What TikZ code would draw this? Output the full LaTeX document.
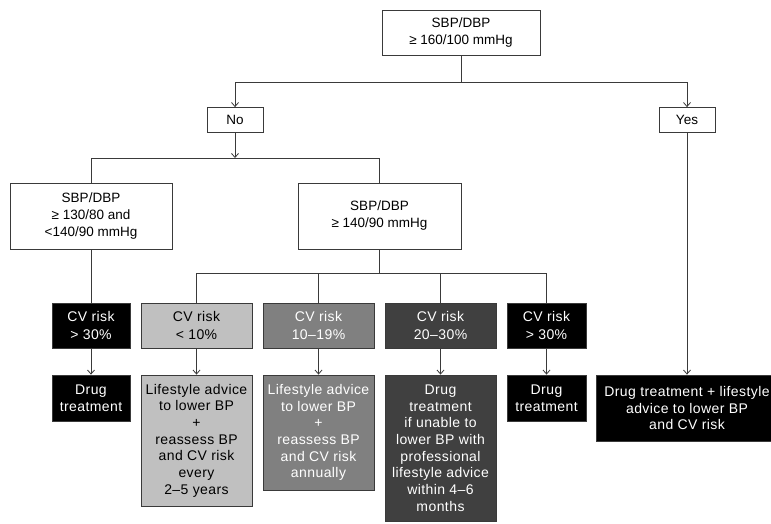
\documentclass[tikz,border=0pt]{standalone}
\usepackage{fontspec}
\setmainfont{Liberation Sans}
\usetikzlibrary{arrows.meta}
\definecolor{lgray}{HTML}{C0C0C0}
\definecolor{mgray}{HTML}{808080}
\definecolor{dgray}{HTML}{404040}
\definecolor{linec}{HTML}{3A3A3A}
\begin{document}
\begin{tikzpicture}[x=1pt,y=-1pt,
  box/.style={draw=linec, line width=0.8pt, align=center, inner sep=0pt, anchor=center},
  topfont/.style={font=\fontsize{13.5}{17}\selectfont},
  botfont/.style={font=\addfontfeatures{LetterSpace=3}\fontsize{14}{16.7}\selectfont},
  cvfont/.style={font=\addfontfeatures{LetterSpace=3}\fontsize{14}{18}\selectfont},
  wbox/.style={box, fill=white, text=black, topfont},
  lbox/.style={box, fill=lgray, text=black},
  mbox/.style={box, fill=mgray, text=white},
  dbox/.style={box, fill=dgray, text=white},
  kbox/.style={box, fill=black, text=white},
  conn/.style={draw=linec, line width=0.8pt},
  arr/.style={conn, -{Straight Barb[length=4pt,width=7pt,line width=0.8pt]}}
]
\useasboundingbox (0,0) rectangle (771,523);
\fill[white] (0,0) rectangle (771,523);

\node[wbox, minimum width=158pt, minimum height=45pt] (top) at (461,32.5) {SBP/DBP\\≥ 160/100 mmHg};
\node[wbox, minimum width=56pt, minimum height=25pt] (no) at (235,120) {No};
\node[wbox, minimum width=56pt, minimum height=25pt] (yes) at (687,120) {Yes};
\node[wbox, minimum width=162pt, minimum height=66pt] (left) at (91,216) {SBP/DBP\\≥ 130/80 and\\<140/90 mmHg};
\node[wbox, minimum width=163pt, minimum height=66pt] (mid) at (379.5,216) {SBP/DBP\\≥ 140/90 mmHg};

\node[kbox, cvfont, minimum width=78pt, minimum height=45pt] (cv1) at (91,325.5) {CV risk\\> 30\%};
\node[lbox, cvfont, minimum width=111pt, minimum height=45pt] (cv2) at (196.5,325.5) {CV risk\\< 10\%};
\node[mbox, cvfont, minimum width=111pt, minimum height=45pt] (cv3) at (318.5,325.5) {CV risk\\10–19\%};
\node[dbox, cvfont, minimum width=111pt, minimum height=45pt] (cv4) at (440.5,325.5) {CV risk\\20–30\%};
\node[kbox, cvfont, minimum width=79pt, minimum height=45pt] (cv5) at (546.5,325.5) {CV risk\\> 30\%};

\node[kbox, botfont, minimum width=78pt, minimum height=46pt] (o1) at (91,398) {Drug\\treatment};
\node[lbox, botfont, minimum width=111pt, minimum height=131pt] (o2) at (196.5,440.5) {Lifestyle advice\\to lower BP\\+\\reassess BP\\and CV risk\\every\\2–5 years};
\node[mbox, botfont, minimum width=111pt, minimum height=115pt] (o3) at (318.5,432.5) {Lifestyle advice\\to lower BP\\+\\reassess BP\\and CV risk\\annually};
\node[dbox, botfont, minimum width=111pt, minimum height=146pt] (o4) at (440.5,448) {Drug\\treatment\\if unable to\\lower BP with\\professional\\lifestyle advice\\within 4–6\\months};
\node[kbox, botfont, minimum width=79pt, minimum height=46pt] (o5) at (546.5,398) {Drug\\treatment};
\node[kbox, botfont, minimum width=182pt, minimum height=66pt] (o6) at (687,408) {Drug treatment + lifestyle\\advice to lower BP\\and CV risk};

\coordinate (j1) at (461,82);
\coordinate (j2) at (235,158);
\coordinate (j3) at (379.5,273);

\draw[conn] (top.south) -- (j1);
\draw[arr] (j1) -| (no.north);
\draw[arr] (j1) -| (yes.north);
\draw[arr] (no.south) -- (j2);
\draw[conn] (j2) -| (left.north);
\draw[conn] (j2) -| (mid.north);
\draw[conn] (left.south) -- (cv1.north);
\draw[conn] (mid.south) -- (j3);
\draw[conn] (j3) -| (cv2.north);
\draw[conn] (j3) -| (cv3.north);
\draw[conn] (j3) -| (cv4.north);
\draw[conn] (j3) -| (cv5.north);
\draw[arr] (cv1.south) -- (o1.north);
\draw[arr] (cv2.south) -- (o2.north);
\draw[arr] (cv3.south) -- (o3.north);
\draw[arr] (cv4.south) -- (o4.north);
\draw[arr] (cv5.south) -- (o5.north);
\draw[arr] (yes.south) -- (o6.north);
\end{tikzpicture}
\end{document}
